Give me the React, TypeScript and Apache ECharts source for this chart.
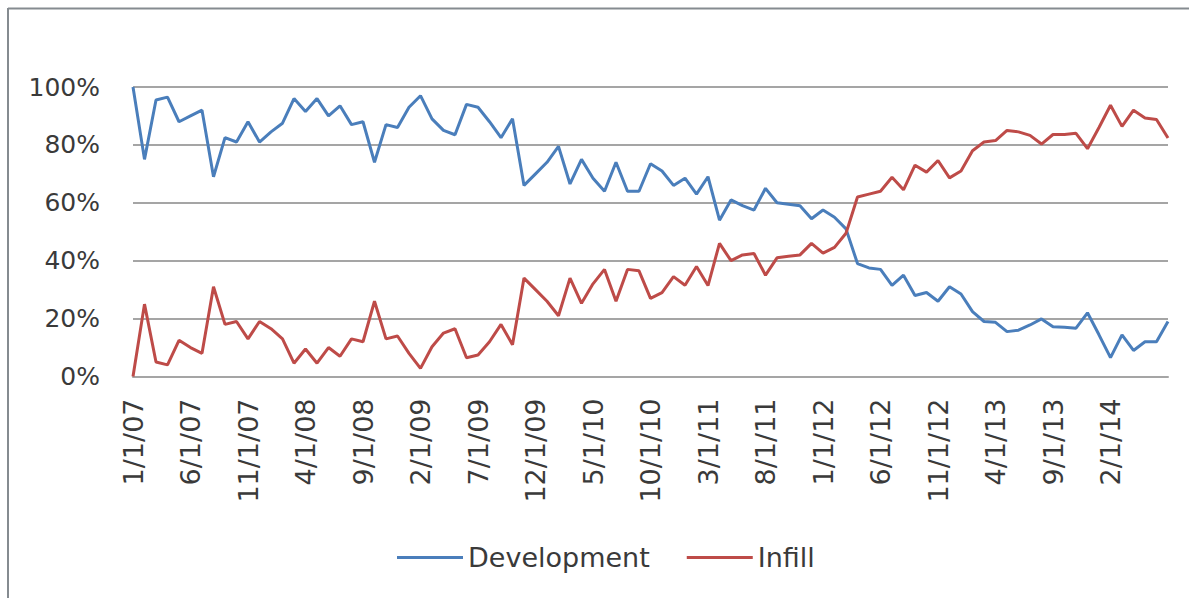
import React, { useEffect, useRef } from "react";
import * as echarts from "echarts";

const startYear = 2007;
const monthCount = 91;
const categories: string[] = [];
for (let k = 0; k < monthCount; k++) {
  const m = (k % 12) + 1;
  const y = startYear + Math.floor(k / 12);
  categories.push(`${m}/1/${String(y % 100).padStart(2, "0")}`);
}

const development = [
  100, 75, 95.5, 96.5, 88, 90, 92, 69, 82.5, 81,
  88, 81, 84.5, 87.5, 96, 91.5, 96, 90, 93.5, 87,
  88, 74, 87, 86, 93, 97, 89, 85, 83.5, 94,
  93, 88, 82.5, 89, 66, 70, 74, 79.5, 66.5, 75,
  68.5, 64, 74, 64, 64, 73.5, 71, 66, 68.5, 63,
  69, 54, 61, 59, 57.5, 65, 60, 59.5, 59, 54.5,
  57.5, 55, 51, 39, 37.5, 37, 31.5, 35, 28, 29,
  26, 31, 28.5, 22.4, 19, 18.7, 15.5, 16, 17.8, 19.9,
  17.2, 17, 16.7, 22, 14.4, 6.5, 14.4, 9, 12, 12,
  19,
];

const infill = [
  0, 25, 5, 4, 12.5, 10, 8, 31, 18, 19,
  13, 19, 16.5, 13, 4.6, 9.5, 4.6, 10, 7, 13,
  12, 26, 13, 14, 8, 2.8, 10.3, 15, 16.5, 6.5,
  7.4, 12, 18, 11, 34, 30, 26, 21, 34, 25.3,
  32, 37, 26, 37, 36.5, 27, 29, 34.5, 31.5, 38,
  31.4, 46, 40, 42, 42.5, 35, 41, 41.5, 42, 46,
  42.6, 44.6, 49.5, 62, 63, 64, 68.8, 64.5, 73, 70.6,
  74.6, 68.6, 71, 78, 81, 81.5, 85, 84.5, 83.3, 80.3,
  83.6, 83.6, 84, 78.7, 86, 93.7, 86.4, 92, 89.3, 88.8,
  82.4,
];

const seriesNames = ["Development", "Infill"];
const seriesColors = ["#4A7EBB", "#BE4B48"];
const labelStep = 5;
const lastLabelIndex = 85;

export default function App() {
  const ref = useRef<HTMLDivElement>(null);
  useEffect(() => {
    if (!ref.current) return;
    const chart = echarts.init(ref.current, null, { renderer: "svg" });
    const font = "DejaVu Sans";
    const textColor = "#3a3a3a";
    chart.setOption({
      animation: false,
      backgroundColor: "#ffffff",
      grid: {
        left: 133,
        right: 21,
        top: 87,
        bottom: 221.5,
        containLabel: false,
        outerBoundsMode: "none",
      },
      legend: {
        data: seriesNames,
        left: 397,
        top: 544,
        padding: 0,
        icon: "rect",
        itemWidth: 66,
        itemHeight: 3,
        itemGap: 37,
        textStyle: { fontFamily: font, fontSize: 27, color: textColor },
      },
      xAxis: {
        type: "category",
        data: categories,
        boundaryGap: false,
        axisLine: { show: true, lineStyle: { color: "#a5a5a5", width: 2 } },
        axisTick: { show: false },
        axisLabel: {
          interval: (idx: number) => idx % labelStep === 0 && idx <= lastLabelIndex,
          rotate: 90,
          margin: 22,
          fontFamily: font,
          fontSize: 27,
          color: textColor,
        },
      },
      yAxis: {
        type: "value",
        min: 0,
        max: 100,
        interval: 20,
        axisLine: { show: false },
        axisTick: { show: false },
        splitLine: { lineStyle: { color: "#a5a5a5", width: 2 } },
        axisLabel: {
          formatter: "{value}%",
          margin: 33,
          fontFamily: font,
          fontSize: 25,
          color: textColor,
        },
      },
      series: [
        {
          name: seriesNames[0],
          type: "line",
          data: development,
          showSymbol: false,
          symbol: "none",
          lineStyle: { width: 3, color: seriesColors[0] },
          itemStyle: { color: seriesColors[0] },
        },
        {
          name: seriesNames[1],
          type: "line",
          data: infill,
          showSymbol: false,
          symbol: "none",
          lineStyle: { width: 3, color: seriesColors[1] },
          itemStyle: { color: seriesColors[1] },
        },
      ],
      graphic: [
        {
          type: "line",
          shape: { x1: 8, y1: 8.5, x2: 1189, y2: 8.5 },
          style: { stroke: "#858b90", lineWidth: 2 },
          silent: true,
        },
        {
          type: "line",
          shape: { x1: 8, y1: 8, x2: 8, y2: 598 },
          style: { stroke: "#858b90", lineWidth: 2 },
          silent: true,
        },
      ],
    });
    return () => chart.dispose();
  }, []);
  return (
    <div
      ref={ref}
      style={{ position: "absolute", left: 0, top: 0, width: 1189, height: 598 }}
    />
  );
}
